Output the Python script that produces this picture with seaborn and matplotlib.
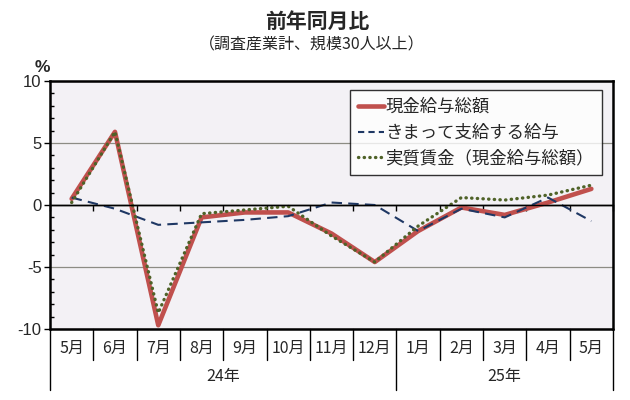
import matplotlib
matplotlib.use("Agg")
import matplotlib.pyplot as plt
import matplotlib.transforms as mtransforms
from matplotlib.lines import Line2D
from matplotlib.ticker import MultipleLocator
import seaborn as sns
import pandas as pd

months = ["5月", "6月", "7月", "8月", "9月", "10月", "11月", "12月", "1月", "2月", "3月", "4月", "5月"]
years = ["24年", "25年"]
year_spans = [(0, 8), (8, 13)]
total_pay = [0.5, 5.9, -9.7, -1.0, -0.6, -0.6, -2.3, -4.6, -2.1, -0.2, -0.8, 0.2, 1.3]
regular_pay = [0.6, -0.3, -1.6, -1.4, -1.2, -0.9, 0.2, 0.0, -2.1, -0.3, -1.0, 0.6, -1.3]
real_wage = [0.2, 5.9, -8.7, -0.7, -0.4, -0.1, -2.5, -4.6, -1.7, 0.6, 0.4, 0.8, 1.6]
series_names = ["現金給与総額", "きまって支給する給与", "実質賃金（現金給与総額）"]

sns.set_theme(style="white")
plt.rcParams["font.family"] = ["Noto Sans CJK JP", "DejaVu Sans"]

fig = plt.figure(figsize=(6.3, 4.0), dpi=100)
W, H = 630, 400
l, r, t, b = 50, 613, 81, 329
ax = fig.add_axes([l / W, 1 - b / H, (r - l) / W, (b - t) / H])
ax.set_facecolor("#F3F1F5")

x = list(range(len(months)))
df = pd.DataFrame({"x": x, "a": total_pay, "b": regular_pay, "c": real_wage})

sns.lineplot(data=df, x="x", y="a", ax=ax, color="#C0504D", lw=3.3,
             solid_capstyle="round", zorder=3)
sns.lineplot(data=df, x="x", y="b", ax=ax, color="#1F3864", lw=1.5,
             linestyle=(0, (5, 3)), zorder=4)
sns.lineplot(data=df, x="x", y="c", ax=ax, color="#4F6228", lw=2.4,
             linestyle=(0, (0.1, 1.6)), dash_capstyle="round", zorder=5)

ax.set_xlim(-0.5, len(months) - 0.5)
ax.set_ylim(-10, 10)
ax.set_xlabel("")
ax.set_ylabel("")

# y axis
ax.set_yticks([-10, -5, 0, 5, 10])
ax.set_yticklabels(["-10", "-5", "0", "5", "10"], family=["Liberation Sans"], fontsize=12)
ax.yaxis.set_minor_locator(MultipleLocator(1))
ax.tick_params(axis="y", which="major", direction="out", length=4, width=1, color="black", pad=2, left=True)
ax.tick_params(axis="y", which="minor", direction="in", length=3, width=1, color="black", left=True)
ax.grid(axis="y", which="major", color="#8C8C84", lw=0.9)
ax.grid(axis="x", visible=False)

# x axis at zero
ax.spines["bottom"].set_position(("data", 0))
ax.spines["bottom"].set_linewidth(1.0)
ax.spines["bottom"].set_color("black")
ax.set_xticks([i - 0.5 for i in range(len(months) + 1)])
ax.set_xticklabels([])
ax.tick_params(axis="x", which="major", direction="out", length=4, width=1, color="black", bottom=True)
ax.axhline(0, color="black", lw=1.0, zorder=6)
for s in ["left", "top", "right"]:
    ax.spines[s].set_linewidth(1.8)
    ax.spines[s].set_color("black")
ax.axhline(-10, color="black", lw=1.8, clip_on=False, zorder=7)

# category table below
trans = mtransforms.blended_transform_factory(ax.transData, ax.transAxes)
ah = b - t
y_month = -(360 - b) / ah
y_full = -(390 - b) / ah
full_bounds = {year_spans[0][0], year_spans[0][1], year_spans[1][1]}
for i in range(len(months) + 1):
    yb = y_full if i in full_bounds else y_month
    ax.plot([i - 0.5, i - 0.5], [0, yb], transform=trans, color="black", lw=1.0, clip_on=False)
for i, m in enumerate(months):
    ax.text(i, -(348 - b) / ah, m, transform=trans, ha="center", va="center", fontsize=11.5)
for yname, (s0, s1) in zip(years, year_spans):
    ax.text((s0 + s1 - 1) / 2, -(376 - b) / ah, yname, transform=trans, ha="center", va="center", fontsize=11.5)

# legend
handles = [
    Line2D([0], [0], color="#C0504D", lw=3.3),
    Line2D([0], [0], color="#1F3864", lw=1.5, linestyle=(0, (3, 2))),
    Line2D([0], [0], color="#4F6228", lw=2.4, linestyle=(0, (0.1, 1.6)), dash_capstyle="round"),
]
leg = ax.legend(handles, series_names, loc="upper left",
                bbox_to_anchor=((350 - l) / (r - l), 1 - (90 - t) / ah),
                frameon=True, fancybox=False, fontsize=12.5, handlelength=1.5,
                handletextpad=0.1, borderpad=0.45, labelspacing=0.45, borderaxespad=0)
leg.get_frame().set_edgecolor("black")
leg.get_frame().set_facecolor("white")
leg.get_frame().set_linewidth(1.0)
leg.set_zorder(10)

# titles
fig.text(0.503, 1 - 21 / H, "前年同月比", ha="center", va="center", fontsize=15, fontweight="bold")
fig.text(0.495, 1 - 45 / H, "（調査産業計、規模30人以上）", ha="center", va="center", fontsize=11.5)
fig.text(42 / W, 1 - 67 / H, "%", ha="center", va="center", fontsize=12.5, family=["Liberation Sans"], fontweight="bold")

fig.savefig("out.png", dpi=100)
